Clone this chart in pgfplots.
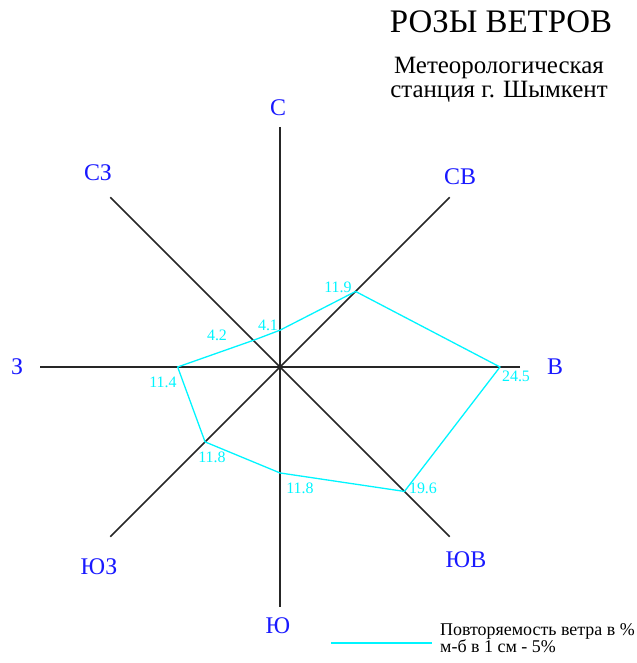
\documentclass[border=0pt]{standalone}
\usepackage{fontspec}
\setmainfont{Liberation Serif}
\usepackage{pgfplots}
\usepgfplotslibrary{polar}
\pgfplotsset{compat=1.18}
\definecolor{dirblue}{RGB}{25,25,255}
\definecolor{rosecyan}{RGB}{0,245,255}
\begin{document}
\begin{tikzpicture}[x=1bp,y=1bp]
\useasboundingbox (0,0) rectangle (637,663);
\begin{polaraxis}[
  at={(280bp,296bp)}, anchor=center,
  width=480bp, height=480bp, scale only axis,
  hide axis, clip=false,
  xmin=0, xmax=360, ymin=0, ymax=26.73,
]
% arms of the rose
\addplot[black!85, line width=1.6bp] coordinates {(0,26.73) (0,0) (180,26.73)};
\addplot[black!85, line width=1.6bp] coordinates {(90,26.73) (90,0) (270,26.73)};
\addplot[black!85, line width=1.6bp] coordinates {(45,26.73) (45,0) (225,26.73)};
\addplot[black!85, line width=1.6bp] coordinates {(135,26.73) (135,0) (315,26.73)};
% wind frequency (%)
\addplot[rosecyan, line width=1.3bp] coordinates {
(90,4.1) (45,11.9) (0,24.5) (315,19.6) (270,11.8) (225,11.8) (180,11.4) (135,4.2) (90,4.1)};
\end{polaraxis}
% titles
\node[anchor=base, inner sep=0pt, font=\fontsize{33}{36}\selectfont] at (501,630) {РОЗЫ ВЕТРОВ};
\node[anchor=base, inner sep=0pt, font=\fontsize{25}{27}\selectfont] at (499,589) {Метеорологическая};
\node[anchor=base, inner sep=0pt, font=\fontsize{25}{27}\selectfont] at (499,565) {станция г. Шымкент};
% direction labels
\begin{scope}[every node/.style={text=dirblue, font=\fontsize{24}{26}\selectfont}]
\node at (278,555) {С};
\node at (460,486) {СВ};
\node at (555,296) {В};
\node at (466,103) {ЮВ};
\node at (278,37) {Ю};
\node at (99,96) {ЮЗ};
\node at (17,296) {З};
\node at (98,490) {СЗ};
\end{scope}
% value labels
\begin{scope}[every node/.style={text=rosecyan, font=\fontsize{16}{18}\selectfont, inner sep=0pt}]
\node at (338,376) {11.9};
\node at (268,338) {4.1};
\node at (217,328) {4.2};
\node at (163,281) {11.4};
\node at (212,206) {11.8};
\node at (300,175) {11.8};
\node at (423,175) {19.6};
\node at (516,287) {24.5};
\end{scope}
% legend
\draw[rosecyan, line width=1.5bp] (331,20) -- (432,20);
\node[anchor=base west, inner sep=0pt, font=\fontsize{18}{19}\selectfont] at (440,27) {Повторяемость ветра в \%};
\node[anchor=base west, inner sep=0pt, font=\fontsize{18}{19}\selectfont] at (440,10) {м-б в 1 см - 5\%};
\end{tikzpicture}
\end{document}
